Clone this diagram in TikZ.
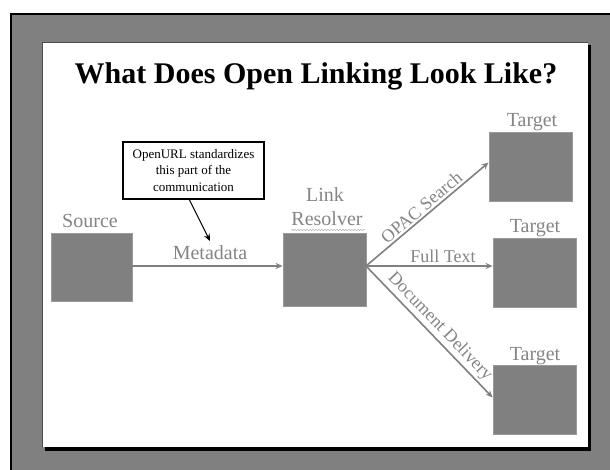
\documentclass[tikz,border=0pt]{standalone}
\usepackage{fontspec}
\setmainfont{Liberation Serif}
\usetikzlibrary{arrows.meta,decorations.pathmorphing}
\definecolor{boxgray}{HTML}{808080}
\definecolor{edgegray}{HTML}{9A9A9A}
\definecolor{txtgray}{HTML}{858585}
\tikzset{
  graybox/.style={draw=edgegray, line width=0.8pt, fill=boxgray, inner sep=0pt},
  lbl/.style={text=txtgray, font=\fontsize{20}{24}\selectfont, anchor=base, inner sep=0pt},
  linklbl/.style={text=txtgray, font=\fontsize{18}{21}\selectfont, inner sep=2pt},
  flow/.style={draw=boxgray, line width=1.6pt, -{Stealth[length=7pt,width=6pt]}},
}
\begin{document}
\begin{tikzpicture}[x=1pt,y=-1pt]
\useasboundingbox (0,0) rectangle (610,470);
\fill[white] (0,0) rectangle (610,470);
% outer frame
\fill[boxgray] (10,13) rectangle (610,470);
\fill[black] (10,13) rectangle (12,470);
\fill[black] (10,13) rectangle (610,15);
% slide with shadow
\fill[black] (45,45) rectangle (591,451);
\fill[white] (42,42) rectangle (588,447);
\draw[black!70, line width=0.6pt] (42,447) -- (42,42) -- (588,42);
% title
\node[anchor=base, inner sep=0pt, font=\fontsize{30}{36}\selectfont\bfseries] (title) at (316,84) {What Does Open Linking Look Like?};
% boxes
\node[graybox, minimum width=81pt, minimum height=68pt] (src) at (91.5,267) {};
\node[graybox, minimum width=83pt, minimum height=73pt] (res) at (324.5,269.5) {};
\node[graybox, minimum width=83pt, minimum height=69pt] (t1) at (530.5,166.5) {};
\node[graybox, minimum width=83pt, minimum height=69pt] (t2) at (534.5,272.5) {};
\node[graybox, minimum width=83pt, minimum height=69pt] (t3) at (534.5,399.5) {};
% labels
\node[lbl] (srcl) at (90,228) {Source};
\node[lbl] (linkl) at (325,202) {Link};
\node[lbl] (resl) at (327,226) {Resolver};
\draw[txtgray!60, line width=0.5pt, decorate, decoration={snake, amplitude=0.7pt, segment length=3pt}] (291,230) -- (365,230);
\node[lbl] (t1l) at (532,127) {Target};
\node[lbl] (t2l) at (535,233) {Target};
\node[lbl] (t3l) at (535,360) {Target};
% connectors
\coordinate (hub) at (366,266);
\draw[flow] (src.east |- hub) -- (res.west |- hub);
\node[lbl] (metal) at (210,260) {Metadata};
\draw[flow] (hub) -- node[linklbl, sloped, above, pos=0.5] (opac) {OPAC Search} ([yshift=4pt]t1.west);
\draw[flow] (hub) -- (t2.west |- hub);
\node[linklbl, anchor=base, inner sep=0pt] (ftl) at (443,262) {Full Text};
\draw[flow] (hub) -- node[linklbl, sloped, above, pos=0.52] (docd) {Document Delivery} ([yshift=2pt]t3.west);
% callout
\node[draw=black, line width=1.2pt, fill=white, minimum width=141pt, minimum height=57pt, align=center, font=\fontsize{13}{16.5}\selectfont, inner sep=0pt] (call) at (193.5,170.5) {OpenURL standardizes\\this part of the\\communication};
\coordinate (callfrom) at (189,199);
\coordinate (calltip) at (210,241);
\draw[black, line width=1pt, -{Stealth[length=7pt,width=6pt]}] (callfrom) -- (calltip);
\end{tikzpicture}
\end{document}
